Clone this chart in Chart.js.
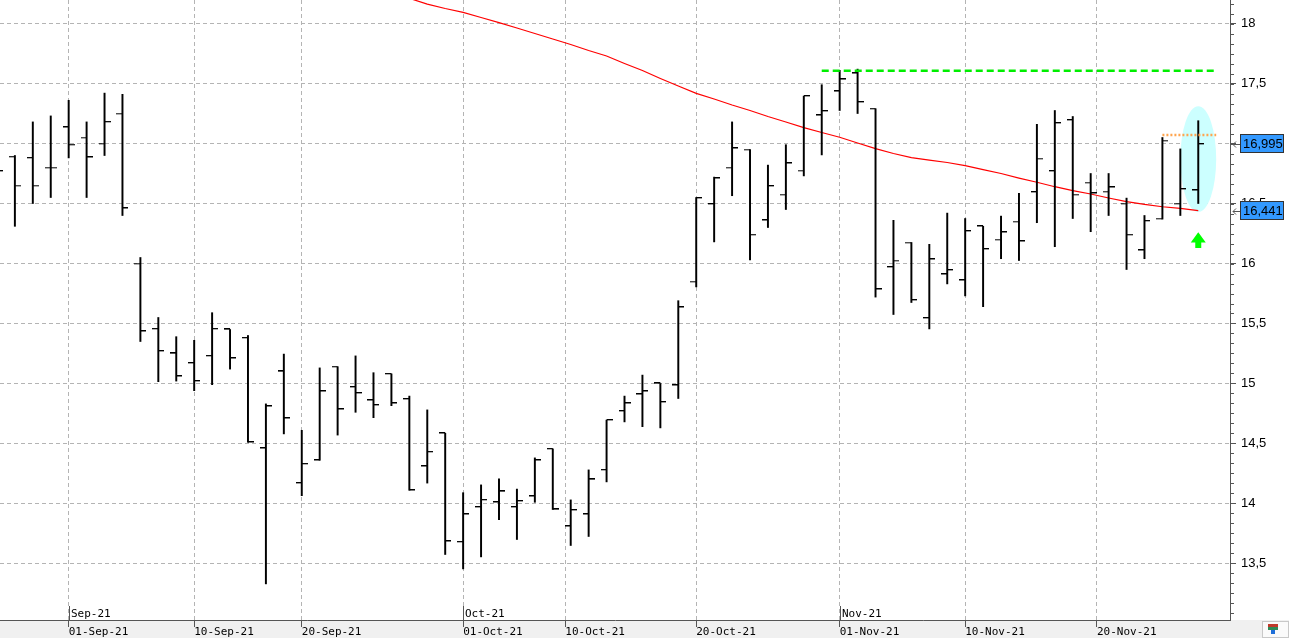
<!DOCTYPE html>
<html>
<head>
<meta charset="utf-8">
<title>OHLC daily</title>
<script src="https://cdn.jsdelivr.net/npm/chart.js@4.4.0/dist/chart.umd.min.js"></script>
<style>
  html, body { margin: 0; padding: 0; background: #fff; }
  #wrap { width: 1289px; height: 638px; }
</style>
</head>
<body>
<div id="wrap"><canvas id="chart" width="1289" height="638"></canvas></div>
<script>
// trading days, 26-Aug-21 .. 29-Nov-21 (x value = index in these arrays)
var days = ['26-Aug','27-Aug','30-Aug','31-Aug',
  '01-Sep','02-Sep','03-Sep','06-Sep','07-Sep','08-Sep','09-Sep','10-Sep','13-Sep','14-Sep','15-Sep','16-Sep','17-Sep',
  '20-Sep','21-Sep','22-Sep','23-Sep','24-Sep','27-Sep','28-Sep','29-Sep','30-Sep',
  '01-Oct','04-Oct','05-Oct','06-Oct','07-Oct','08-Oct','11-Oct','12-Oct','13-Oct','14-Oct','15-Oct',
  '18-Oct','19-Oct','20-Oct','21-Oct','22-Oct','25-Oct','26-Oct','27-Oct','28-Oct','29-Oct',
  '01-Nov','02-Nov','03-Nov','04-Nov','05-Nov','08-Nov','09-Nov','10-Nov','11-Nov','12-Nov',
  '15-Nov','16-Nov','17-Nov','18-Nov','19-Nov','22-Nov','23-Nov','24-Nov','25-Nov','26-Nov','29-Nov'];

var open = [16.85,16.89,16.88,16.80,
  17.135,17.05,17.00,17.25,16.00,15.455,15.25,15.17,15.23,15.45,15.38,14.46,15.10,
  14.17,14.36,15.14,14.97,14.86,15.08,14.87,14.31,14.585,
  13.68,13.97,14.01,13.97,14.06,14.455,13.81,13.91,14.28,14.77,14.91,
  15.00,14.985,15.85,16.495,16.80,16.95,16.36,16.575,16.775,17.235,
  17.435,17.585,17.29,15.97,16.175,15.545,15.91,15.86,16.31,16.20,
  16.35,16.595,16.77,17.195,16.675,16.60,16.50,16.11,16.375,16.50,16.61];
var high = [16.93,16.90,17.18,17.23,
  17.36,17.18,17.42,17.41,16.05,15.55,15.39,15.36,15.59,15.45,15.40,14.83,15.245,
  14.61,15.13,15.14,15.23,15.09,15.08,14.895,14.78,14.585,
  14.09,14.155,14.205,14.12,14.38,14.455,14.03,14.28,14.695,14.895,15.07,
  15.00,15.69,16.55,16.72,17.18,16.95,16.82,16.99,17.395,17.49,
  17.61,17.62,17.29,16.36,16.175,16.16,16.42,16.375,16.31,16.395,
  16.585,17.16,17.275,17.225,16.75,16.75,16.545,16.40,17.05,16.955,17.19];
var low = [16.62,16.31,16.50,16.55,
  16.88,16.55,16.90,16.40,15.35,15.015,15.02,14.94,14.99,15.12,14.51,13.33,14.58,
  14.065,14.36,14.57,14.76,14.715,14.815,14.11,14.17,13.575,
  13.455,13.555,13.865,13.70,14.01,13.95,13.65,13.725,14.18,14.68,14.64,
  14.63,14.875,15.805,16.18,16.565,16.03,16.30,16.45,16.73,16.905,
  17.275,17.25,15.72,15.575,15.675,15.455,15.83,15.73,15.64,16.04,
  16.025,16.34,16.14,16.375,16.265,16.40,15.95,16.04,16.37,16.40,16.50];
var close = [16.77,16.65,16.65,16.80,
  16.99,16.885,17.18,16.46,15.435,15.27,15.06,15.02,15.455,15.21,14.51,14.81,14.71,
  14.33,14.935,14.785,14.92,14.82,14.835,14.11,14.43,13.685,
  13.91,14.03,14.10,14.02,14.36,13.95,13.945,14.20,14.695,14.835,14.935,
  14.845,15.635,16.545,16.71,16.96,16.24,16.645,16.835,17.395,17.27,
  17.535,17.345,15.785,16.025,15.695,16.035,15.945,16.27,16.12,16.26,
  16.185,16.875,17.17,16.575,16.585,16.635,16.24,16.355,17.025,16.62,16.995];
// moving average (red), shown from 28-Sep onward
var ma = [null,null,null,null,
  null,null,null,null,null,null,null,null,null,null,null,null,null,
  null,null,null,null,null,null,18.21,18.162,18.125,
  18.093,18.05,18.008,17.963,17.917,17.871,17.825,17.775,17.729,17.667,17.608,
  17.542,17.479,17.418,17.371,17.321,17.275,17.225,17.179,17.132,17.092,
  17.052,17.004,16.957,16.917,16.883,16.862,16.842,16.815,16.783,16.75,
  16.712,16.677,16.64,16.608,16.579,16.546,16.515,16.492,16.473,16.46,16.441];

var tickPos = [4, 11, 17, 26, 31.7, 39, 47, 54, 61.35];
var tickLabels = ['01-Sep-21','10-Sep-21','20-Sep-21','01-Oct-21','10-Oct-21','20-Oct-21','01-Nov-21','10-Nov-21','20-Nov-21'];
var monthPos = [4, 26, 47];
var monthLabels = ['Sep-21','Oct-21','Nov-21'];
var yTicks = [13.5, 14, 14.5, 15, 15.5, 16, 16.5, 17, 17.5, 18];

var resistance = 17.607;   // green dashed level
var resistFrom = 46, resistTo = 68;
var lastHigh = 17.071;     // orange dotted level
var lastHighFrom = 65, lastHighTo = 68;

var GRID = '#b4b4b4';
var AXIS = '#555555';
var MONO = "'DejaVu Sans Mono', monospace";
var SANS = "'Liberation Sans', Arial, sans-serif";

function fmt(v) { return String(v).replace('.', ','); }

// small images used as point styles for the open (left) and close (right) ticks
function tickImg(left) {
  var c = document.createElement('canvas');
  c.width = 12; c.height = 2;
  var g = c.getContext('2d');
  g.fillStyle = '#000';
  g.fillRect(left ? 0 : 6, 0, 6, 1.3);
  return c;
}

var hl = [], opens = [], closes = [], maPts = [];
for (var i = 0; i < days.length; i++) {
  hl.push({x: i, y: [low[i], high[i]]});
  opens.push({x: i, y: open[i]});
  closes.push({x: i, y: close[i]});
  if (ma[i] != null) maPts.push({x: i, y: ma[i]});
}

function noPad(s) { s.paddingTop = 0; s.paddingBottom = 0; s.paddingLeft = 0; s.paddingRight = 0; }

var bgPlugin = {
  id: 'bg',
  beforeDraw: function(chart) {
    var c = chart.ctx, a = chart.chartArea;
    c.save();
    c.fillStyle = '#fff';
    c.fillRect(0, 0, chart.width, chart.height);
    c.fillStyle = '#f0f0f0';
    c.fillRect(0, a.bottom, chart.width, chart.height - a.bottom);
    c.restore();
  },
  beforeDatasetsDraw: function(chart) {
    // highlight around the last bar
    var c = chart.ctx, xs = chart.scales.x, ys = chart.scales.y;
    var last = days.length - 1;
    var cx = xs.getPixelForValue(last), cy = ys.getPixelForValue(16.87);
    var rx = xs.getPixelForValue(last + 1) - cx;
    var ry = cy - ys.getPixelForValue(16.87 + 0.44);
    c.save();
    c.fillStyle = '#ccffff';
    c.beginPath();
    c.ellipse(cx, cy, rx, ry, 0, 0, Math.PI * 2);
    c.fill();
    c.restore();
  }
};

function valueBox(c, ys, v, x) {
  var y = Math.round(ys.getPixelForValue(v));
  c.fillStyle = '#3399ff';
  c.fillRect(x + 10.5, y - 9.5, 43, 18);
  c.strokeStyle = '#333';
  c.lineWidth = 1;
  c.strokeRect(x + 10.5, y - 9.5, 43, 18);
  c.fillStyle = '#000';
  c.font = '13px ' + SANS;
  c.textAlign = 'left';
  c.textBaseline = 'middle';
  c.fillText(fmt(v), x + 13, y + 0.5);
  // little pointer arrow
  c.strokeStyle = AXIS;
  c.beginPath();
  c.moveTo(x + 3, y + 0.5); c.lineTo(x + 10, y + 0.5);
  c.moveTo(x + 6, y - 2.5); c.lineTo(x + 3, y + 0.5); c.lineTo(x + 6, y + 3.5);
  c.stroke();
}

var overlayPlugin = {
  id: 'overlay',
  afterDraw: function(chart) {
    var c = chart.ctx, xs = chart.scales.x, ys = chart.scales.y, a = chart.chartArea;
    c.save();
    // minor ticks on the price axis
    c.strokeStyle = AXIS;
    c.lineWidth = 1;
    c.beginPath();
    for (var n = 13 * 12; n <= 18.2 * 12; n++) {
      var py = Math.round(ys.getPixelForValue(n / 12)) + 0.5;
      if (py < a.top || py > a.bottom) continue;
      c.moveTo(a.right, py); c.lineTo(a.right + 4, py);
    }
    c.stroke();
    // month markers
    c.font = '11px ' + MONO;
    c.fillStyle = '#000';
    c.textBaseline = 'alphabetic';
    c.textAlign = 'left';
    for (var m = 0; m < monthPos.length; m++) {
      var px = Math.round(xs.getPixelForValue(monthPos[m])) + 0.5;
      c.beginPath();
      c.moveTo(px, a.bottom - 14); c.lineTo(px, a.bottom);
      c.stroke();
      c.fillText(monthLabels[m], px + 1.5, a.bottom - 3);
    }
    // last close and moving average labels
    var last = days.length - 1;
    valueBox(c, ys, close[last], a.right);
    valueBox(c, ys, ma[last], a.right);
    // green signal arrow under the last bar
    var ax = xs.getPixelForValue(last);
    var tip = ys.getPixelForValue(16.26), base = ys.getPixelForValue(16.175), end = ys.getPixelForValue(16.13);
    c.fillStyle = '#00ff00';
    c.beginPath();
    c.moveTo(ax, tip); c.lineTo(ax + 7.5, base); c.lineTo(ax + 3, base); c.lineTo(ax + 3, end);
    c.lineTo(ax - 3, end); c.lineTo(ax - 3, base); c.lineTo(ax - 7.5, base); c.closePath();
    c.fill();
    // corner box
    c.fillStyle = '#fafafa';
    c.fillRect(1262, a.bottom + 1, 27, chart.height - a.bottom - 1);
    c.strokeStyle = '#c8c8c8';
    c.strokeRect(1262.5, a.bottom + 1.5, 26, chart.height - a.bottom - 2);
    c.fillStyle = '#c0392b'; c.fillRect(1268, a.bottom + 4, 10, 3);
    c.fillStyle = '#2e8b57'; c.fillRect(1268, a.bottom + 7, 10, 3);
    c.fillStyle = '#1e6fd9'; c.fillRect(1271, a.bottom + 10, 4, 4);
    c.restore();
  }
};

new Chart(document.getElementById('chart'), {
  type: 'bar',
  data: {
    datasets: [
      { type: 'scatter', data: opens, pointStyle: tickImg(true), pointRadius: 6, order: 1 },
      { type: 'scatter', data: closes, pointStyle: tickImg(false), pointRadius: 6, order: 1 },
      { type: 'bar', data: hl, backgroundColor: '#000', barThickness: 1.3, borderWidth: 0, order: 2 },
      { type: 'line', data: maPts, borderColor: '#ff0000', borderWidth: 1.2, pointRadius: 0, tension: 0, order: 3 },
      { type: 'line', data: [{x: resistFrom, y: resistance}, {x: resistTo, y: resistance}],
        borderColor: '#00ee00', borderWidth: 2.5, borderDash: [7, 4], pointRadius: 0, order: 0 },
      { type: 'line', data: [{x: lastHighFrom, y: lastHigh}, {x: lastHighTo, y: lastHigh}],
        borderColor: '#ffa54f', borderWidth: 2.5, borderDash: [2, 2], pointRadius: 0, order: 0 }
    ]
  },
  options: {
    responsive: false,
    animation: false,
    events: [],
    layout: { padding: 0, autoPadding: false },
    plugins: { legend: { display: false }, tooltip: { enabled: false }, title: { display: false } },
    scales: {
      x: {
        type: 'linear',
        position: 'bottom',
        offset: false,
        min: 0.17,
        max: 68.77,
        afterBuildTicks: function(s) { s.ticks = tickPos.map(function(v) { return {value: v}; }); },
        afterFit: function(s) { s.height = 18; noPad(s); },
        grid: { offset: false, color: GRID, lineWidth: 1, tickLength: 7, tickColor: AXIS },
        border: { display: true, color: AXIS, width: 1, dash: [4, 3] },
        ticks: {
          autoSkip: false, maxRotation: 0, minRotation: 0, align: 'start', padding: -1,
          color: '#000', font: { family: MONO, size: 11 },
          callback: function(v, idx) { return tickLabels[idx]; }
        }
      },
      y: {
        type: 'linear',
        position: 'right',
        min: 13.029,
        max: 18.196,
        afterBuildTicks: function(s) { s.ticks = yTicks.map(function(v) { return {value: v}; }); },
        afterFit: function(s) { s.width = 59; noPad(s); },
        grid: { color: GRID, lineWidth: 1, tickLength: 6, tickColor: AXIS },
        border: { display: true, color: AXIS, width: 1, dash: [4, 3] },
        ticks: {
          padding: 5, color: '#000', font: { family: SANS, size: 13 },
          callback: function(v) { return fmt(v); }
        }
      }
    }
  },
  plugins: [bgPlugin, overlayPlugin]
});
</script>
</body>
</html>
